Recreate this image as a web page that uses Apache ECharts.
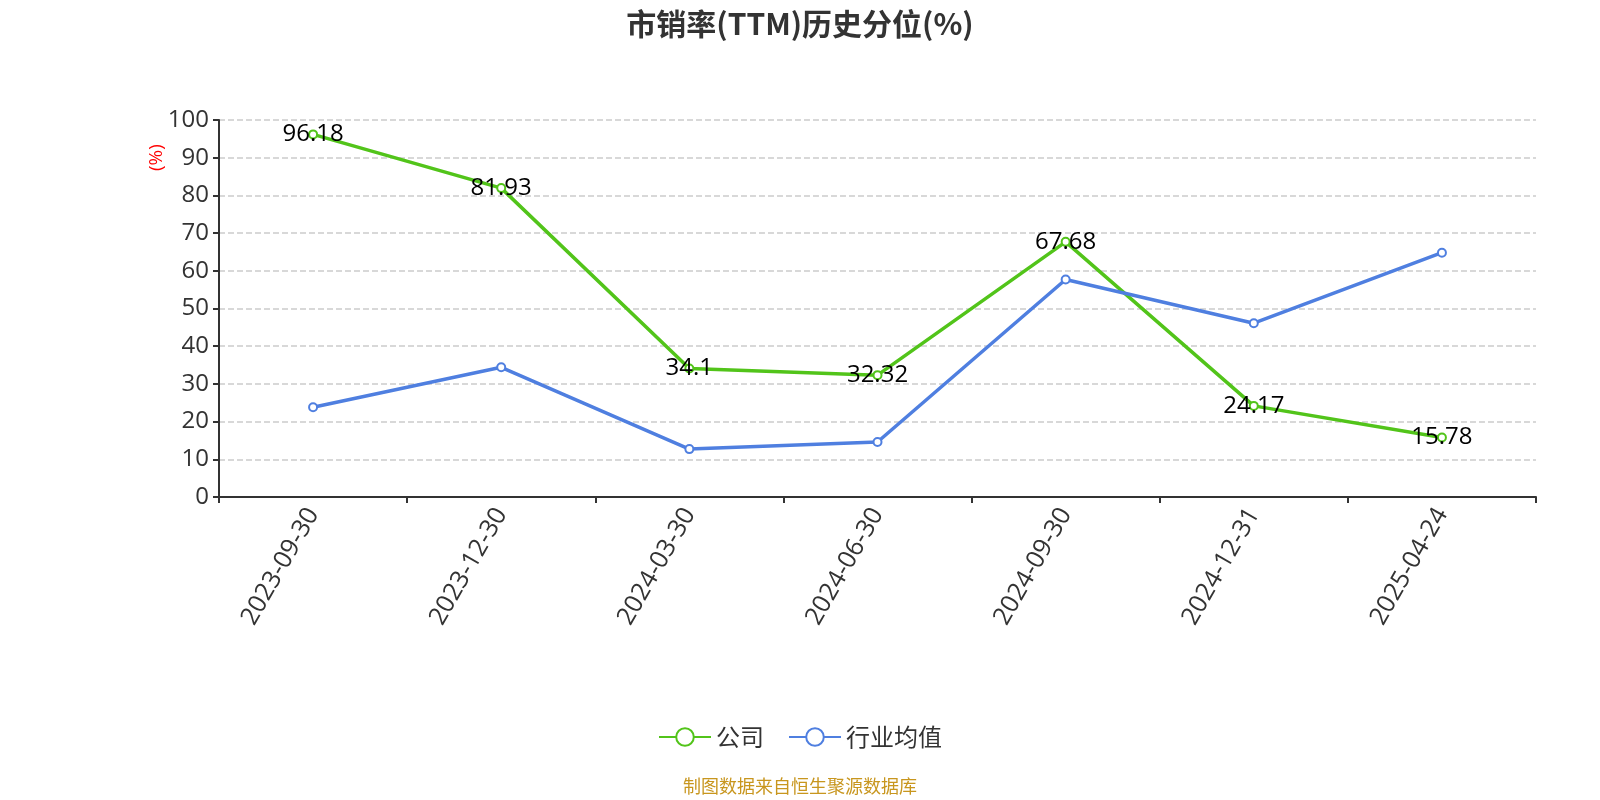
<!DOCTYPE html>
<html><head><meta charset="utf-8">
<script src="https://cdn.jsdelivr.net/npm/echarts@6/dist/echarts.min.js"></script>
<style>html,body{margin:0;padding:0;background:#fff}#c{width:1600px;height:800px}</style>
</head><body><div id="c"></div>
<script>
const categories = ['2023-09-30','2023-12-30','2024-03-30','2024-06-30','2024-09-30','2024-12-31','2025-04-24'];
const companyValues = [96.18, 81.93, 34.1, 32.32, 67.68, 24.17, 15.78];
const industryValues = [23.8, 34.4, 12.7, 14.6, 57.7, 46.1, 64.8];
const yTicks = [0,10,20,30,40,50,60,70,80,90,100];
const chart = echarts.init(document.getElementById('c'));
const font = '"Open Sans","Noto Sans CJK SC",sans-serif';
const cjk = '"Noto Sans CJK SC","Open Sans",sans-serif';
chart.setOption({
  textStyle:{fontFamily:font},
  title:{text:'市销率(TTM)历史分位(%)',left:'center',top:4,textStyle:{fontSize:30,fontWeight:'bold',color:'#333',fontFamily:cjk}},
  grid:{left:219,right:64,top:120,bottom:303},
  legend:{bottom:46,left:'center',itemWidth:52,itemHeight:22,itemGap:24,textStyle:{fontSize:24,color:'#333',fontFamily:cjk},data:['公司','行业均值']},
  graphic:[
    {type:'text',left:'center',top:777,style:{text:'制图数据来自恒生聚源数据库',fill:'#c8961e',font:'18px '+cjk}},
    {type:'text',x:147,y:171,rotation:Math.PI/2,style:{text:'(%)',fill:'red',font:'19px '+font}}
  ],
  xAxis:{type:'category',data:categories,boundaryGap:true,
    axisLine:{lineStyle:{color:'#333',width:2}},axisTick:{show:true,length:6,lineStyle:{color:'#333',width:2}},
    axisLabel:{rotate:60,fontSize:25,color:'#333',margin:13}},
  yAxis:{type:'value',min:yTicks[0],max:yTicks[yTicks.length-1],interval:10,
    axisLine:{show:true,lineStyle:{color:'#333',width:2}},axisTick:{show:true,length:6,lineStyle:{color:'#333',width:2}},
    axisLabel:{fontSize:24,color:'#333',margin:10},
    splitLine:{show:true,lineStyle:{type:'dashed',color:'#ccc',width:1.5}}},
  series:[
    {name:'公司',type:'line',data:companyValues,symbol:'emptyCircle',symbolSize:8,
      lineStyle:{width:3.5,color:'#52c41a'},itemStyle:{color:'#52c41a',borderWidth:2},
      label:{show:true,position:'inside',fontSize:24,color:'#000'}},
    {name:'行业均值',type:'line',data:industryValues,symbol:'emptyCircle',symbolSize:8,
      lineStyle:{width:3.5,color:'#4f7fe0'},itemStyle:{color:'#4f7fe0',borderWidth:2}}
  ]
});
</script></body></html>
